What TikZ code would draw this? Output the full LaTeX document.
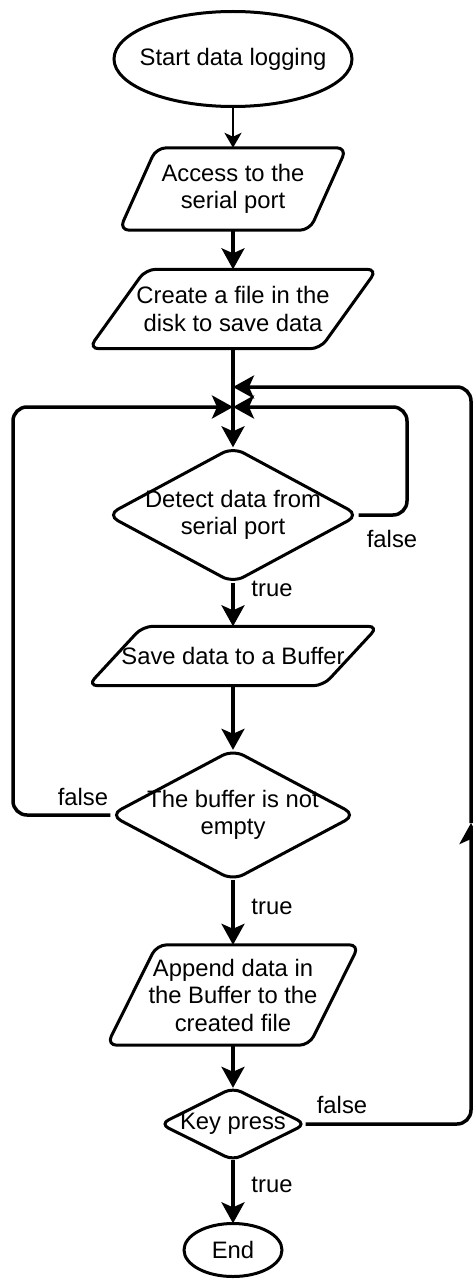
\documentclass[tikz,border=0pt]{standalone}
\usepackage{fontspec}
\setmainfont{Liberation Sans}
\usetikzlibrary{shapes.geometric,arrows.meta,calc}
\begin{document}
\begin{tikzpicture}[x=1pt,y=-1pt,
  font=\fontsize{23.8}{27.5}\selectfont,
  border/.style={draw=black,line width=3pt},
  box/.style={draw=none,inner sep=0pt,align=center},
  conn/.style={line width=3.5pt,-{Stealth[length=21pt,width=23pt,inset=5pt]}},
  connthin/.style={line width=2.6pt,-{Stealth[length=15pt,width=17pt,inset=4pt]}},
  lbl/.style={inner sep=0pt}]
\useasboundingbox (0,0) rectangle (473,1279);
\fill[white] (0,0) rectangle (473,1279);

% terminals
\node[box,minimum width=238pt,minimum height=95pt] (start) at (233,59) {Start data logging};
\node[box,minimum width=98pt,minimum height=53pt] (end) at (233,1250) {End};
\draw[border] (start.center) ellipse [x radius=119, y radius=47.5];
\draw[border] (end.center) ellipse [x radius=49, y radius=26.5];

% parallelogram boxes
\node[box,minimum width=227pt,minimum height=82pt] (p1) at (233,189) {Access to the\\serial port};
\node[box,minimum width=288pt,minimum height=79pt] (p2) at (233,309) {Create a file in the\\disk to save data};
\node[box,minimum width=290pt,minimum height=59pt] (p3) at (233,656) {Save data to a Buffer};
\node[box,minimum width=252pt,minimum height=100pt] (p4) at (233,995) {Append data in\\the Buffer to the\\created file};

\foreach \n/\s in {p1/37,p2/57,p3/55,p4/50}{
  \draw[border,rounded corners=10pt] ($(\n.north west)+(\s,0)$) -- (\n.north east)
     -- ($(\n.south east)-(\s,0)$) -- (\n.south west) -- cycle;
}

% decisions
\node[box,minimum width=251pt,minimum height=135pt] (d1) at (233,515) {Detect data from\\serial port};
\node[box,minimum width=245pt,minimum height=130pt] (d2) at (233,815) {The buffer is not\\empty};
\node[box,minimum width=145pt,minimum height=72pt] (d3) at (233,1124) {Key press};
\foreach \n/\r in {d1/12pt,d2/12pt,d3/9pt}{
  \draw[border,rounded corners=\r] (\n.north) -- (\n.east) -- (\n.south) -- (\n.west) -- cycle;
}

% junction coordinates
\coordinate (j1) at (233,387);
\coordinate (j2) at (233,407);
\coordinate (rr) at (407,407);
\coordinate (ll) at (13,407);
\coordinate (mid) at (471,823);

% main flow
\draw[connthin] (start.south) -- (p1.north);
\draw[conn] (p1.south) -- (p2.north);
\draw[conn] (p2.south) -- (d1.north);
\draw[conn] (d1.south) -- (p3.north);
\draw[conn] (p3.south) -- (d2.north);
\draw[conn] (d2.south) -- (p4.north);
\draw[conn] (p4.south) -- (d3.north);
\draw[conn] (d3.south) -- (end.north);

% loops
\draw[conn,rounded corners=14pt] (d1.east) -| (rr) -- (j2);
\draw[conn,rounded corners=14pt] (d2.west) -| (ll) -- (j2);
\draw[conn,rounded corners=14pt] (d3.east) -| (mid);
\draw[conn,rounded corners=14pt] (mid) |- (j1);

% labels
\node[lbl] (f1) at (392,539) {false};
\node[lbl] (t1) at (272,589) {true};
\node[lbl] (f2) at (83,797) {false};
\node[lbl] (t2) at (272,907) {true};
\node[lbl] (f3) at (342,1105) {false};
\node[lbl] (t3) at (272,1185) {true};
\end{tikzpicture}
\end{document}
